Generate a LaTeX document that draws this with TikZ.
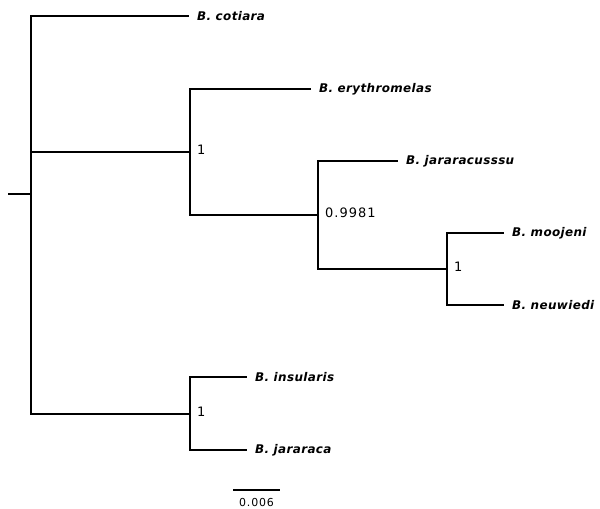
\documentclass[tikz,border=0pt]{standalone}
\usepackage{fontspec}
\setmainfont{DejaVu Sans}
\usetikzlibrary{positioning}
\tikzset{
  branch/.style={line width=1.2bp, black},
  taxon/.style={anchor=west, inner xsep=8bp, inner ysep=0pt,
                font=\fontsize{12}{14}\selectfont\bfseries\itshape\addfontfeatures{LetterSpace=3}},
  support/.style={anchor=west, inner xsep=7bp, inner ysep=0pt,
                font=\fontsize{13}{15}\selectfont\addfontfeatures{LetterSpace=8}},
  scalelabel/.style={font=\fontsize{11}{13}\selectfont\addfontfeatures{LetterSpace=8}, inner sep=0pt},
}

\begin{document}
\begin{tikzpicture}[x=1bp, y=-1bp]
  \useasboundingbox (0,0) rectangle (600,509);

  % Noeuds internes
  \coordinate (root) at (8,194);
  \coordinate (n0) at (31,194);
  \coordinate (nA) at (190,152);
  \coordinate (nB) at (318,215);
  \coordinate (nC) at (447,269);
  \coordinate (nD) at (190,414);

  % Feuilles
  \node[taxon] (cot) at (189,16)  {B. cotiara};
  \node[taxon] (ery) at (311,89)  {B. erythromelas};
  \node[taxon] (jss) at (398,161) {B. jararacusssu};
  \node[taxon] (moo) at (504,233) {B. moojeni};
  \node[taxon] (neu) at (504,305) {B. neuwiedi};
  \node[taxon] (ins) at (247,377) {B. insularis};
  \node[taxon] (jar) at (247,450) {B. jararaca};

  % Branches
  \draw[branch] (root) -- (n0);
  \foreach \a/\b in {n0/cot.west, n0/nA, n0/nD,
                     nA/ery.west, nA/nB,
                     nB/jss.west, nB/nC,
                     nC/moo.west, nC/neu.west,
                     nD/ins.west, nD/jar.west}{
    \draw[branch] (\a) |- (\b);
  }

  % Supports
  \node[support] (sA) at ([yshift=2bp]nA) {1};
  \node[support] (sB) at ([yshift=2bp]nB) {0.9981};
  \node[support] (sC) at ([yshift=2bp]nC) {1};
  \node[support] (sD) at ([yshift=2bp]nD) {1};

  % Echelle
  \coordinate (sb1) at (233,490);
  \coordinate (sb2) at (280,490);
  \draw[branch] (sb1) -- (sb2);
  \node[scalelabel] (sbl) at (256.5,503) {0.006};
\end{tikzpicture}
\end{document}
